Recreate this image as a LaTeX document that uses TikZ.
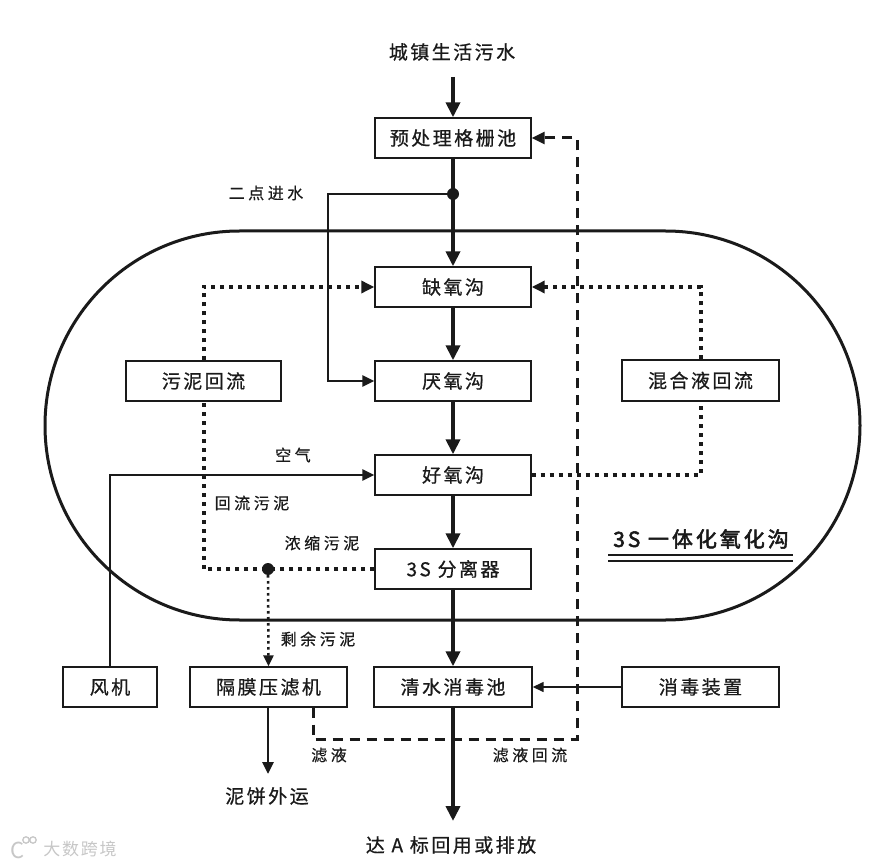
\documentclass[tikz,border=0pt]{standalone}
\usepackage{fontspec}
\setmainfont{Noto Sans CJK SC}
\newfontfamily\boxfont[LetterSpace=13,FakeBold=0.7]{Noto Sans CJK SC}
\newfontfamily\labfont[LetterSpace=22,FakeBold=0.5]{Noto Sans CJK SC}
\newfontfamily\titfont[LetterSpace=14,FakeBold=2.5]{Noto Sans CJK SC}
\newfontfamily\wmfont[LetterSpace=10]{Noto Sans CJK SC}
\usetikzlibrary{arrows.meta}
\definecolor{ink}{HTML}{1A1A1A}
\tikzset{
  box/.style={draw=ink, line width=1.4pt, minimum height=40pt, inner sep=0pt,
    font=\boxfont\fontsize{19pt}{21pt}\selectfont, text=ink, fill=white},
  cbox/.style={box, minimum width=156pt},
  bigtext/.style={font=\boxfont\fontsize{19pt}{21pt}\selectfont, text=ink, inner sep=2pt},
  lab/.style={font=\labfont\fontsize{16pt}{18pt}\selectfont, text=ink, inner sep=1pt},
  mainline/.style={draw=ink, line width=4pt, -{Triangle[length=15pt,width=14pt]}},
  medline/.style={draw=ink, line width=2.8pt, -{Triangle[length=12pt,width=11pt]}},
  thinline/.style={draw=ink, line width=1.5pt, -{Triangle[length=11pt,width=10pt]}},
  dotthick/.style={draw=ink, line width=4pt, dash pattern=on 4pt off 5pt},
  dotthin/.style={draw=ink, line width=2.6pt, dash pattern=on 2.6pt off 3.4pt},
  dashline/.style={draw=ink, line width=3pt, dash pattern=on 10pt off 7pt},
  dottip/.style={-{Triangle[length=13pt,width=12pt]}},
  dottipsmall/.style={-{Triangle[length=11pt,width=10pt]}},
}
\begin{document}
\begin{tikzpicture}[x=1pt,y=-1pt]
\useasboundingbox (0,0) rectangle (894,866);
\fill[white] (0,0) rectangle (894,866);

% oxidation ditch outline
\draw[ink, line width=3pt, rounded corners=194.5pt] (45,231) rectangle (860,620);

% boxes
\node[cbox] (pre) at (453,138) {预处理格栅池};
\node[cbox] (que) at (453,287) {缺氧沟};
\node[cbox] (yan) at (453,381) {厌氧沟};
\node[cbox] (hao) at (453,475) {好氧沟};
\node[cbox] (sep) at (453,569) {3S 分离器};
\node[cbox, minimum width=158pt] (qing) at (453,687) {清水消毒池};
\node[box, minimum width=155pt] (wuni) at (203.5,381) {污泥回流};
\node[box, minimum width=157pt, minimum height=41pt] (hunhe) at (700.5,380.5) {混合液回流};
\node[box, minimum width=157pt] (xiaodu) at (700.5,687) {消毒装置};
\node[box, minimum width=157pt] (gemo) at (268.5,687) {隔膜压滤机};
\node[box, minimum width=94pt] (fj) at (110,687) {风机};

% texts
\node[bigtext] (src) at (452,52) {城镇生活污水};
\node[bigtext] (cake) at (267,796) {泥饼外运};
\node[bigtext] (outt) at (451,845) {达 A 标回用或排放};
\node[lab] (l1) at (266,193) {二点进水};
\node[lab] (l2) at (293,455) {空气};
\node[lab] (l3) at (252,503) {回流污泥};
\node[lab] (l4) at (322,543) {浓缩污泥};
\node[lab] (l5) at (318,639) {剩余污泥};
\node[lab] (l6) at (329,755) {滤液};
\node[lab] (l7) at (530,755) {滤液回流};
\node[font=\titfont\fontsize{21pt}{23pt}\selectfont, text=ink, inner sep=0pt] (tt) at (701,539) {3S 一体化氧化沟};
\draw[ink, line width=1.3pt] (608,555) -- (793,555);
\draw[ink, line width=1.3pt] (608,561) -- (793,561);

% coordinates
\coordinate (srcout) at (453,77);
\coordinate (j1) at (453,194);
\coordinate (b1) at (328,194);
\coordinate (j2) at (268,569);
\coordinate (d1) at (313,739);
\coordinate (d2) at (577,739);
\coordinate (d3) at (577,138);
\coordinate (cakeend) at (268,774);
\coordinate (outend) at (453,821);

% dashed filtrate return
\draw[dashline, dottip] (gemo.south -| d1) -- (d1) -- (d2) -- (d3) -- (pre.east);

% main flow
\draw[mainline] (srcout) -- (pre.north);
\draw[mainline] (pre.south) -- (que.north);
\draw[mainline] (que.south) -- (yan.north);
\draw[mainline] (yan.south) -- (hao.north);
\draw[mainline] (hao.south) -- (sep.north);
\draw[mainline] (sep.south) -- (qing.north);
\draw[mainline] (qing.south) -- (outend);

% second inlet
\draw[medline] (j1) -- (b1) |- (yan.west);
\fill[ink] (j1) circle[radius=6pt];

% air
\draw[medline] (fj.north) |- (hao.west);

% disinfection
\draw[thinline] (xiaodu.west) -- (qing.east);

% sludge
\draw[dotthick, dottip] (wuni.north) |- (que.west);
\draw[dotthick] (sep.west) -| (wuni.south);
\fill[ink] (j2) circle[radius=6pt];
\draw[dotthin, dottipsmall] (j2) -- (gemo.north);
\draw[medline] (gemo.south -| j2) -- (cakeend);

% mixed liquor return
\draw[dotthick] (hao.east) -| (hunhe.south);
\draw[dotthick, dottip] (hunhe.north) |- (que.east);

% watermark
\node[font=\wmfont\fontsize{17pt}{19pt}\selectfont, text=black!22, inner sep=0pt] (wm) at (80,849) {大数跨境};
\node[font=\fontsize{22pt}{22pt}\selectfont, text=black!22, inner sep=0pt] (wml) at (18,850) {C};
\draw[black!22, line width=1.3pt] (26,840) circle[radius=3.2pt] (33,840) circle[radius=3.2pt];
\end{tikzpicture}
\end{document}
